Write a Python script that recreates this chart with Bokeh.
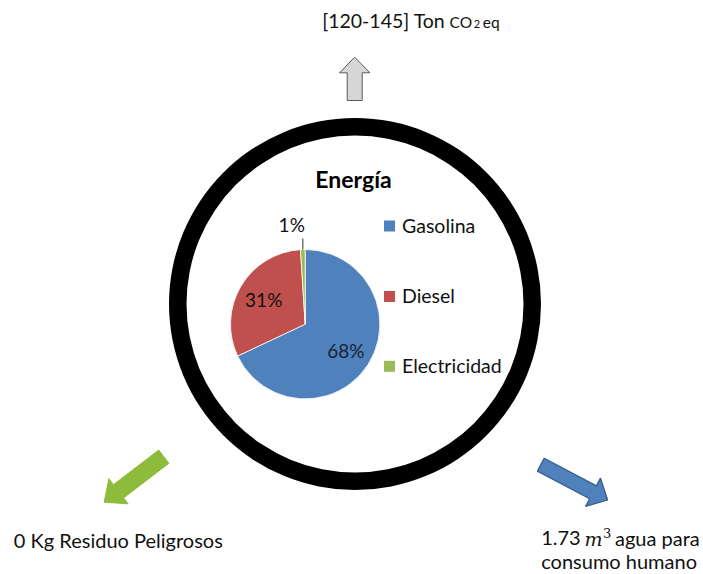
import numpy as np
from bokeh.plotting import figure
from bokeh.models import Range1d, ColumnDataSource
from bokeh.core.properties import value
from bokeh.embed import file_html
from bokeh.resources import INLINE

# ---------------- data ----------------
categories = ["Gasolina", "Diesel", "Electricidad"]
shares = [68, 31, 1]
colors = ["#4F81BD", "#C0504D", "#9BBB59"]
pct_labels = ["68%", "31%", "1%"]
chart_title = "Energía"
top_runs = ["[120-145] Ton", "CO", "2", "eq"]
left_label = "0 Kg Residuo Peligrosos"
right_runs = ["1.73", "m", "3", "agua para"]
right_line2 = "consumo humano"

FONT = "Lato"
W, H = 703, 574


def Y(y):
    # page y (downwards) -> data y (upwards)
    return H - y


def arrow(tail, tip, sw, hw, hl):
    t = np.array(tail, float)
    p = np.array(tip, float)
    d = p - t
    u = d / np.hypot(*d)
    n = np.array([-u[1], u[0]])
    b = p - u * hl
    pts = [t + n * sw / 2, b + n * sw / 2, b + n * hw / 2, p,
           b - n * hw / 2, b - n * sw / 2, t - n * sw / 2]
    xs = [q[0] for q in pts]
    ys = [Y(q[1]) for q in pts]
    return xs, ys


p = figure(width=W, height=H, output_backend="svg", toolbar_location=None,
           x_range=Range1d(0, W), y_range=Range1d(0, H),
           min_border=0, tools="")
p.axis.visible = False
p.grid.visible = False
p.outline_line_color = None
p.background_fill_color = "white"
p.border_fill_color = "white"


def txt(x, base_y, s, size, align="left", font=FONT, style="normal",
        color="#111111"):
    # place text by its baseline (page coords) using a middle anchor
    mid = base_y - 0.36 * size
    p.text(x=[x], y=[Y(mid)], text=[s], text_align=align,
           text_baseline="middle", text_font=value(font),
           text_font_size=f"{size}px", text_font_style=style,
           text_color=color)


# ---------------- ring ----------------
p.annulus(x=[354.5], y=[Y(303.5)], inner_radius=168.5, outer_radius=186,
          fill_color="black", line_color=None)

# ---------------- pie ----------------
cx, cy, R = 304.7, Y(323.7), 74.7
tot = float(sum(shares))
fr = np.array(shares) / tot
cum = np.concatenate([[0], np.cumsum(fr)])
starts = np.pi / 2 - 2 * np.pi * cum[:-1]
ends = np.pi / 2 - 2 * np.pi * cum[1:]
src = ColumnDataSource(dict(start=starts, end=ends, color=colors, cat=categories))
p.wedge(x=cx, y=cy, radius=R, start_angle="start", end_angle="end",
        direction="clock", fill_color="color", line_color="white",
        line_width=0.8, source=src)

mids = np.pi / 2 - 2 * np.pi * (cum[:-1] + fr / 2)
lab_r = 0.645 * R
in_x = [cx + lab_r * np.cos(a) for a in mids[:2]]
in_y = [cy + lab_r * np.sin(a) for a in mids[:2]]
p.text(x=in_x, y=in_y, text=pct_labels[:2], text_align="center",
       text_baseline="middle", text_font=value(FONT), text_font_size="19px",
       text_color=["#1c2333", "#111111"])

# small slice: leader line + outside label
a3 = mids[2]
ex, ey = cx + R * np.cos(a3), cy + R * np.sin(a3)
p.segment(x0=[ex], y0=[ey], x1=[ex], y1=[ey + 11], line_color="#333333",
          line_width=1)
p.text(x=[ex + 2], y=[ey + 18 + 0.36 * 19], text=[pct_labels[2]],
       text_align="right", text_baseline="middle", text_font=value(FONT),
       text_font_size="19px", text_color="#111111")

# ---------------- title ----------------
txt(353, 186.7, chart_title, 23, align="center", style="bold", color="black")

# ---------------- legend ----------------
leg_y = [225.5, 296.0, 365.8]
p.rect(x=[389] * 3, y=[Y(v) for v in leg_y], width=11, height=11,
       fill_color=colors, line_color=None)
for cat, v in zip(categories, leg_y):
    txt(401.5, v + 6.2, cat, 19.5)

# ---------------- arrows ----------------
xs, ys = arrow((354.2, 100), (354.2, 56.7), 15, 30.3, 15.6)
p.patch(xs, ys, fill_color="#d6d6d6", line_color="#5a5a5a", line_width=1)

xs, ys = arrow((163.3, 456.2), (103.7, 501.7), 16.7, 31.6, 18)
p.patch(xs, ys, fill_color="#8dbb3c", line_color="#8dbb3c", line_width=1)

xs, ys = arrow((540.3, 464.2), (607.1, 499.5), 14.5, 32, 16.5)
p.patch(xs, ys, fill_color="#4F81BD", line_color="#385D8A", line_width=1.3)

# ---------------- annotations ----------------
txt(321.7, 27.3, top_runs[0], 19.5)
txt(449, 27.3, top_runs[1], 15.5)
txt(473.3, 27.3, top_runs[2], 11)
txt(482.3, 27.3, top_runs[3], 15.5)

txt(13.3, 546.7, left_label, 20)

txt(540.7, 545, right_runs[0], 20)
txt(584, 545, right_runs[1], 19, font="DejaVu Serif", style="italic")
txt(602.5, 537.5, right_runs[2], 13, font="DejaVu Serif")
txt(614.5, 545, right_runs[3], 20)
txt(540.7, 567.7, right_line2, 20)

open("out.html", "w").write(file_html(p, INLINE))
